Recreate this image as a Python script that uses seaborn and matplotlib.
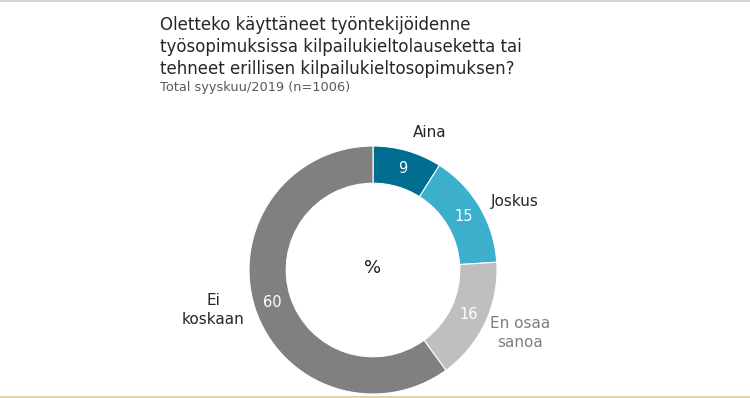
#!/usr/bin/env python3
import numpy as np
import seaborn as sns
from matplotlib import pyplot as plt
from matplotlib.lines import Line2D

# data
categories = ["Aina", "Joskus", "En osaa\nsanoa", "Ei\nkoskaan"]
values = [9, 15, 16, 60]
colors = ["#006E91", "#3CAFCD", "#BFBFBF", "#808080"]
label_colors = ["#262626", "#262626", "#7F7F7F", "#262626"]
# label centres in ring units
label_pos = [(0.46, 1.105), (1.145, 0.555), (1.19, -0.51), (-1.29, -0.32)]

title = "Oletteko käyttäneet työntekijöidenne\ntyösopimuksissa kilpailukieltolauseketta tai\ntehneet erillisen kilpailukieltosopimuksen?"
subtitle = "Total syyskuu/2019 (n=1006)"


def main():
    sns.set_theme(style="white")
    plt.rcParams["font.family"] = ["DejaVu Sans"]

    fig = plt.figure(figsize=(7.5, 3.98), dpi=100)
    fig.patch.set_facecolor("white")

    # ring: centre at (373, 270) px, outer radius 124 px
    r = 124
    ax = fig.add_axes([(373 - r) / 750, (128 - r) / 398, 2 * r / 750, 2 * r / 398])
    wedges, texts, autotexts = ax.pie(
        values, colors=colors, startangle=90, counterclock=False,
        wedgeprops=dict(width=0.3, edgecolor="white", linewidth=0.8),
        autopct="%.0f", pctdistance=0.85,
        textprops=dict(color="white", fontsize=10.5),
    )
    ax.set_xlim(-1, 1)
    ax.set_ylim(-1, 1)
    ax.set_aspect("equal")
    ax.axis("off")

    for cat, col, (lx, ly) in zip(categories, label_colors, label_pos):
        ax.text(lx, ly, cat, ha="center", va="center", color=col,
                fontsize=11, linespacing=1.35, clip_on=False)
    ax.text(0, 0.02, "%", ha="center", va="center", color="#1a1a1a",
            fontsize=13)

    fig.text(160 / 750, 1 - 16 / 398, title, ha="left", va="top",
             fontsize=12, color="#262626", linespacing=1.3)
    fig.text(160 / 750, 1 - 87 / 398, subtitle, ha="left", va="center",
             fontsize=9.3, color="#595959")

    # thin frame lines top and bottom
    fig.add_artist(Line2D([0, 1], [1 - 0.5 / 398, 1 - 0.5 / 398],
                          transform=fig.transFigure, color="#cccccc", lw=1.2))
    fig.add_artist(Line2D([0, 1], [1.5 / 398, 1.5 / 398],
                          transform=fig.transFigure, color="#d9cd9c", lw=1.2))

    fig.savefig("out.png", dpi=100, facecolor="white")
    plt.close(fig)


if __name__ == "__main__":
    main()
